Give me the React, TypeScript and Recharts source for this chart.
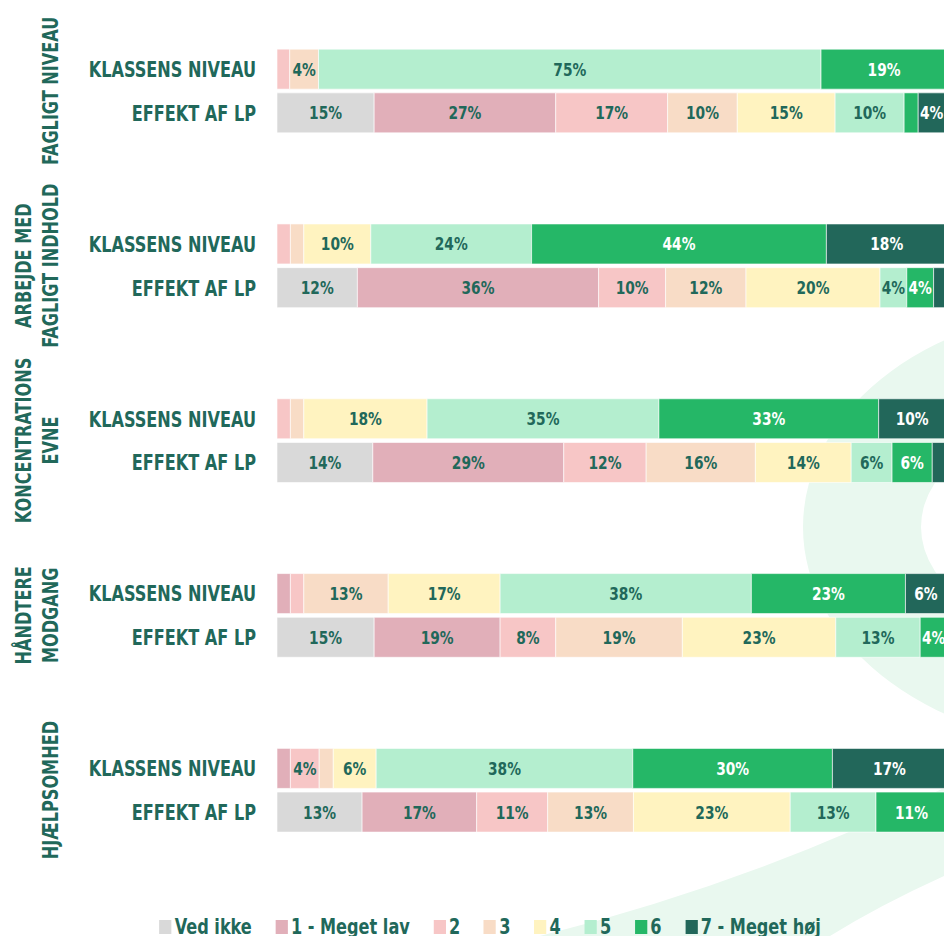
import React from "react";
import { BarChart, Bar, XAxis, YAxis, Legend, LabelList } from "recharts";

const groupLabels = [
  ["FAGLIGT NIVEAU"],
  ["ARBEJDE MED", "FAGLIGT INDHOLD"],
  ["KONCENTRATIONS", "EVNE"],
  ["HÅNDTERE", "MODGANG"],
  ["HJÆLPSOMHED"],
];
const rowLabels = ["KLASSENS NIVEAU", "EFFEKT AF LP"];
const seriesNames = ["Ved ikke", "1 - Meget lav", "2", "3", "4", "5", "6", "7 - Meget høj"];
const seriesColors = ["#d9d9d9", "#e1afb9", "#f7c6c6", "#f8dcc6", "#fff3c0", "#b4eecf", "#25b767", "#22675a"];
const whiteLabel = [false, false, false, false, false, false, true, true];

// Ved ikke, 1..7 in procent
const klassensNiveau = [
  [0, 0, 1.9, 4.3, 0, 75, 19, 0],
  [0, 0, 2, 2, 10, 24, 44, 18],
  [0, 0, 2, 2, 18.4, 34.6, 32.8, 10],
  [0, 2, 2, 12.6, 16.7, 37.5, 23, 6.1],
  [0, 2, 4.3, 2.1, 6.4, 38.3, 29.8, 17],
];
const effektAfLp = [
  [14.5, 27.1, 16.7, 10.4, 14.6, 10.3, 2.1, 4],
  [12, 36, 10, 12, 20, 4, 4, 2],
  [14.3, 28.5, 12.3, 16.3, 14.3, 6.1, 6.0, 2.2],
  [14.5, 18.8, 8.3, 18.9, 22.9, 12.6, 4.0, 0],
  [12.7, 17.1, 10.6, 12.8, 23.4, 12.8, 10.6, 0],
];

const TEAL = "#21685a";
// no narrow font installed, so the condensed face is squeezed a bit more
const FONT = "'Liberation Sans Narrow', 'Arial Narrow', 'DejaVu Sans Condensed', sans-serif";
const SQ = 0.815;
const W = 960;
const H = 936;
const MARGIN = { top: 3.45, right: 13, bottom: 58.5, left: 0 };
const BAND = (H - MARGIN.top - MARGIN.bottom) / 20;

const toRow = (id: string, g: number, r: number, vals?: number[]) => {
  const o: any = { id, group: g, row: r };
  if (vals) vals.forEach((v, i) => (o["s" + i] = v > 0 ? v : undefined));
  return o;
};

const data: any[] = [];
groupLabels.forEach((_, g) => {
  data.push(toRow(`g${g}a`, g, -1));
  data.push(toRow(`g${g}k`, g, 0, klassensNiveau[g]));
  data.push(toRow(`g${g}e`, g, 1, effektAfLp[g]));
  data.push(toRow(`g${g}b`, g, -1));
});

function CategoryTick(props: any) {
  const { y, payload } = props;
  const d = data[payload.index];
  if (!d || d.row < 0) return null;
  const lines = groupLabels[d.group];
  return (
    <g>
      <text
        transform={`translate(256, ${y + 8}) scale(${SQ}, 1)`}
        textAnchor="end"
        fill={TEAL}
        fontFamily={FONT}
        fontWeight={700}
        fontSize={22}
      >
        {rowLabels[d.row]}
      </text>
      {d.row === 0 &&
        lines.map((l, i) => {
          const bx = 58 - (lines.length - 1 - i) * 27;
          return (
            <text
              key={i}
              transform={`translate(${bx}, ${y + BAND / 2}) rotate(-90) scale(${SQ}, 1)`}
              textAnchor="middle"
              fill={TEAL}
              fontFamily={FONT}
              fontWeight={700}
              fontSize={22}
            >
              {l}
            </text>
          );
        })}
    </g>
  );
}

const makeLabel = (i: number) => (props: any) => {
  const { x, y, width, height, value } = props;
  if (value == null || value < 3) return null;
  return (
    <text
      transform={`translate(${x + width / 2}, ${y + height / 2 + 6.5}) scale(0.85, 1)`}
      textAnchor="middle"
      fill={whiteLabel[i] ? "#ffffff" : TEAL}
      fontFamily={FONT}
      fontWeight={700}
      fontSize={18}
    >
      {Math.round(value)}%
    </text>
  );
};

function LegendBox() {
  return (
    <div
      style={{
        display: "flex",
        justifyContent: "center",
        transform: `scaleX(${SQ})`,
        transformOrigin: "center",
        fontFamily: FONT,
        fontWeight: 700,
        fontSize: 22,
        color: TEAL,
        lineHeight: "24px",
      }}
    >
      {seriesNames.map((n, i) => (
        <div key={n} style={{ display: "flex", alignItems: "center", marginRight: i < seriesNames.length - 1 ? 29 : 0 }}>
          <span style={{ display: "inline-block", width: 15, height: 14, background: seriesColors[i], marginRight: 4 }} />
          <span>{n}</span>
        </div>
      ))}
    </div>
  );
}

export default function App() {
  return (
    <div style={{ position: "absolute", left: 0, top: 0, width: 944, height: 936, overflow: "hidden", background: "#fff" }}>
      <svg width={944} height={936} style={{ position: "absolute", left: 0, top: 0 }}>
        <path
          fill="#e9f8ef"
          fillRule="evenodd"
          d="M 803 527 A 300 220 0 1 0 1403 527 A 300 220 0 1 0 803 527 Z M 921 527 A 182 115 0 1 0 1285 527 A 182 115 0 1 0 921 527 Z"
        />
        <path fill="#e9f8ef" d="M 540 936 Q 760 880 944 788 L 944 876 Q 880 905 830 936 Z" />
      </svg>
      <div style={{ position: "absolute", left: 0, top: 0 }}>
        <BarChart width={W} height={H} data={data} layout="vertical" margin={MARGIN} barSize={40}>
          <XAxis type="number" domain={[0, 100]} allowDataOverflow hide />
          <YAxis type="category" dataKey="id" width={277} axisLine={false} tickLine={false} interval={0} tick={<CategoryTick />} />
          <Legend layout="vertical" verticalAlign="middle" align="center" content={<LegendBox />} wrapperStyle={{ left: 0, top: 915, width: 980 }} />
          {seriesNames.map((n, i) => (
            <Bar key={n} dataKey={"s" + i} name={n} stackId="a" fill={seriesColors[i]} stroke="rgba(255,255,255,0.6)" strokeWidth={1} isAnimationActive={false}>
              <LabelList dataKey={"s" + i} content={makeLabel(i)} />
            </Bar>
          ))}
        </BarChart>
      </div>
    </div>
  );
}
